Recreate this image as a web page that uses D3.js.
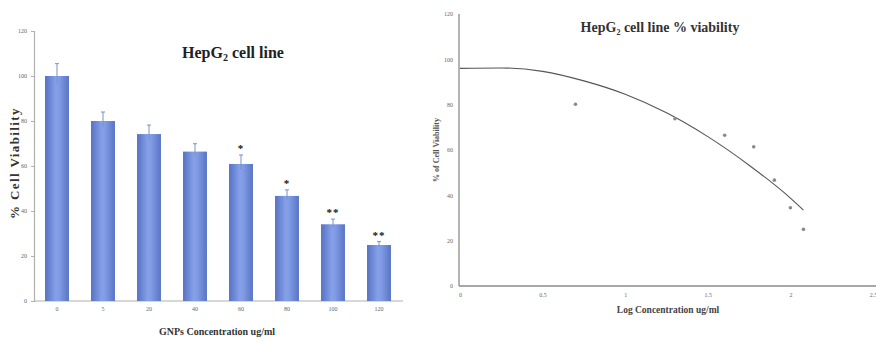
<!DOCTYPE html>
<html><head><meta charset="utf-8">
<script src="https://cdn.jsdelivr.net/npm/d3@7"></script>
<style>html,body{margin:0;padding:0;background:#fff;}svg{display:block;}</style>
</head><body>
<svg id="c" width="876" height="342"></svg>
<script>
// ---- Data ----
const barCategories = ["0","5","20","40","60","80","100","120"];
const barValues = [100, 80, 74.2, 66.4, 60.9, 46.7, 34.1, 24.9];
const barErrors = [5.5, 4, 4, 3.5, 4, 2.7, 2.3, 1.5];
const barSig = ["", "", "", "", "*", "*", "**", "**"];
const barYTicks = [0, 20, 40, 60, 80, 100, 120];

const logX = [0.699, 1.301, 1.602, 1.778, 1.903, 2.0, 2.079];
const logY = [80.2, 73.8, 66.5, 61.4, 46.7, 34.5, 25];
const trendX = [0, 0.25, 0.5, 0.75, 1.0, 1.25, 1.5, 1.75, 2.0, 2.079];
const trendY = [96, 96.2, 94.7, 90.5, 84.6, 76.4, 65.9, 53.3, 38.8, 33.5];
const lineXTicks = [0, 0.5, 1, 1.5, 2, 2.5];
const lineYTicks = [0, 20, 40, 60, 80, 100, 120];

const serif = "'Liberation Serif','Times New Roman',serif";
const svg = d3.select("#c");

const defs = svg.append("defs");
const grad = defs.append("linearGradient").attr("id","barGrad").attr("x1","0").attr("x2","1").attr("y1","0").attr("y2","0");
grad.append("stop").attr("offset","0%").attr("stop-color","#5671c2");
grad.append("stop").attr("offset","45%").attr("stop-color","#86a1e8");
grad.append("stop").attr("offset","60%").attr("stop-color","#809be4");
grad.append("stop").attr("offset","100%").attr("stop-color","#5874c4");

// ---- Left bar chart ----
const L = {x0: 34, x1: 403, y0: 301, y1: 31};
const xb = d3.scaleBand().domain(barCategories).range([34, 402]).paddingInner(0.48).paddingOuter(0.24);
const yb = d3.scaleLinear().domain([0, 120]).range([L.y0, L.y1]);

const gL = svg.append("g");
const yAxisL = d3.axisLeft(yb).tickValues(barYTicks).tickSize(3);
gL.append("g").attr("transform",`translate(${L.x0},0)`).call(yAxisL)
  .call(g=>{g.select(".domain").attr("stroke","#b0b0b0").attr("stroke-width",1.2);
    g.selectAll(".tick line").attr("stroke","#b0b0b0");
    g.selectAll("text").attr("font-family",serif).attr("font-size",6).attr("fill","#666").attr("x",-7);});
const xAxisL = d3.axisBottom(xb).tickSize(0);
gL.append("g").attr("transform",`translate(0,${L.y0})`).call(xAxisL)
  .call(g=>{g.select(".domain").remove();
    g.selectAll("text").attr("font-family",serif).attr("font-size",6).attr("fill","#666").attr("dy","1.2em");});
gL.append("line").attr("x1",L.x0).attr("x2",L.x1).attr("y1",L.y0).attr("y2",L.y0).attr("stroke","#b0b0b0").attr("stroke-width",1.2);

const bars = barCategories.map((c,i)=>({c, v: barValues[i], e: barErrors[i], s: barSig[i]}));
gL.selectAll("rect.bar").data(bars).enter().append("rect")
  .attr("x", d=>xb(d.c)).attr("width", xb.bandwidth())
  .attr("y", d=>yb(d.v)).attr("height", d=>yb(0)-yb(d.v))
  .attr("fill","url(#barGrad)");
const eb = gL.selectAll("g.err").data(bars).enter().append("g").attr("stroke","#7b90c4").attr("stroke-width",1);
eb.append("line").attr("x1",d=>xb(d.c)+xb.bandwidth()/2).attr("x2",d=>xb(d.c)+xb.bandwidth()/2)
  .attr("y1",d=>yb(d.v-d.e*0.6)).attr("y2",d=>yb(d.v+d.e));
eb.append("line").attr("x1",d=>xb(d.c)+xb.bandwidth()/2-2).attr("x2",d=>xb(d.c)+xb.bandwidth()/2+2)
  .attr("y1",d=>yb(d.v+d.e)).attr("y2",d=>yb(d.v+d.e));
gL.selectAll("text.sig").data(bars.filter(d=>d.s)).enter().append("text")
  .attr("x",d=>xb(d.c)+xb.bandwidth()/2).attr("y",d=>yb(d.v+d.e)-3)
  .attr("text-anchor","middle").attr("font-family",serif).attr("font-weight","bold")
  .attr("font-size",11).attr("letter-spacing",1).attr("fill","#111").text(d=>d.s);

gL.append("text").attr("x",233).attr("y",58).attr("text-anchor","middle")
  .attr("font-family",serif).attr("font-weight","bold").attr("font-size",16).attr("fill","#222")
  .call(t=>{t.append("tspan").text("HepG");t.append("tspan").attr("font-size",10).attr("dy",3).text("2");
    t.append("tspan").attr("dy",-3).text(" cell line");});
gL.append("text").attr("transform","translate(19,163) rotate(-90)").attr("text-anchor","middle")
  .attr("font-family",serif).attr("font-weight","bold").attr("font-size",13).attr("fill","#333")
  .attr("letter-spacing",1.4).text("% Cell Viability");
gL.append("text").attr("x",217).attr("y",335).attr("text-anchor","middle")
  .attr("font-family",serif).attr("font-weight","bold").attr("font-size",10).attr("fill","#333")
  .text("GNPs Concentration ug/ml");

// ---- Right scatter/trend chart ----
const R = {x0: 459, x1: 876, y0: 286, y1: 14};
const xr = d3.scaleLinear().domain([0, 2.5]).range([460, 873]);
const yr = d3.scaleLinear().domain([0, 120]).range([R.y0, R.y1]);
const gR = svg.append("g");
gR.append("g").attr("transform",`translate(${R.x0},0)`).call(d3.axisLeft(yr).tickValues(lineYTicks).tickSize(0))
  .call(g=>{g.select(".domain").remove();
    g.selectAll("text").attr("font-family",serif).attr("font-size",6).attr("fill","#666").attr("x",-6);});
gR.append("g").attr("transform",`translate(0,${R.y0})`).call(d3.axisBottom(xr).tickValues(lineXTicks).tickSize(0).tickFormat(d3.format("")))
  .call(g=>{g.select(".domain").remove();
    g.selectAll("text").attr("font-family",serif).attr("font-size",6).attr("fill","#666").attr("dy","1.3em");});
gR.append("line").attr("x1",R.x0).attr("x2",R.x0).attr("y1",R.y1).attr("y2",R.y0).attr("stroke","#8a8a8a").attr("stroke-width",1.3);
gR.append("line").attr("x1",R.x0).attr("x2",R.x1).attr("y1",R.y0).attr("y2",R.y0).attr("stroke","#8a8a8a").attr("stroke-width",1.3);

const trend = trendX.map((x,i)=>[x, trendY[i]]);
gR.append("path").datum(trend)
  .attr("d", d3.line().x(d=>xr(d[0])).y(d=>yr(d[1])).curve(d3.curveMonotoneX))
  .attr("fill","none").attr("stroke","#555").attr("stroke-width",1.1);
const pts = logX.map((x,i)=>[x, logY[i]]);
gR.selectAll("circle").data(pts).enter().append("circle")
  .attr("cx",d=>xr(d[0])).attr("cy",d=>yr(d[1])).attr("r",1.8).attr("fill","#8a8a8a");

gR.append("text").attr("x",660).attr("y",32).attr("text-anchor","middle")
  .attr("font-family",serif).attr("font-weight","bold").attr("font-size",14).attr("fill","#333")
  .call(t=>{t.append("tspan").text("HepG");t.append("tspan").attr("font-size",8).attr("dy",3).text("2");
    t.append("tspan").attr("dy",-3).text(" cell line % viability");});
gR.append("text").attr("transform","translate(439,150) rotate(-90)").attr("text-anchor","middle")
  .attr("font-family",serif).attr("font-weight","bold").attr("font-size",8).attr("fill","#555")
  .text("% of Cell Viability");
gR.append("text").attr("x",668).attr("y",313).attr("text-anchor","middle")
  .attr("font-family",serif).attr("font-weight","bold").attr("font-size",9.5).attr("fill","#444")
  .text("Log Concentration ug/ml");
</script>
</body></html>
